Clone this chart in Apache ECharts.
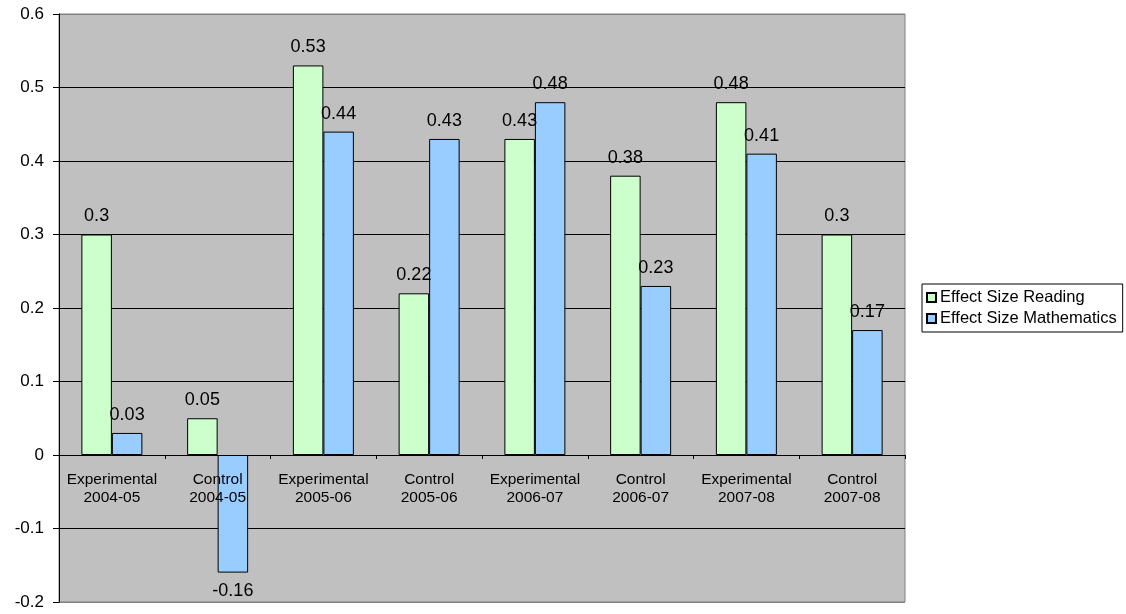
<!DOCTYPE html>
<html>
<head>
<meta charset="utf-8">
<script src="https://cdn.jsdelivr.net/npm/echarts@6/dist/echarts.min.js"></script>
<style>
  html, body { margin: 0; padding: 0; background: #fff; }
  #chart { width: 1126px; height: 614px; }
</style>
</head>
<body>
<div id="chart"></div>
<script>
// Effect sizes by group and school year
const categories = [
  'Experimental\n2004-05', 'Control\n2004-05',
  'Experimental\n2005-06', 'Control\n2005-06',
  'Experimental\n2006-07', 'Control\n2006-07',
  'Experimental\n2007-08', 'Control\n2007-08'
];
const readingValues = [0.3, 0.05, 0.53, 0.22, 0.43, 0.38, 0.48, 0.3];
const mathValues = [0.03, -0.16, 0.44, 0.43, 0.48, 0.23, 0.41, 0.17];
const seriesNames = ['Effect Size Reading', 'Effect Size Mathematics'];

const FONT = '"Liberation Sans", Arial, sans-serif';

const Y_MIN = -0.2;
const Y_MAX = 0.6;
const GRID = { left: 59, top: 14, right: 221, bottom: 12 };
const CHART_H = 614;

// Distance from the bottom edge of the plot up to the zero line,
// used to lift the category axis onto y = 0
const plotH = CHART_H - GRID.top - GRID.bottom;
const zeroLift = plotH * (0 - Y_MIN) / (Y_MAX - Y_MIN);

// Labels sit above positive bars and below negative ones
function withLabels(values) {
  return values.map(v => ({
    value: v,
    label: { position: v < 0 ? 'bottom' : 'top' }
  }));
}

const barLabel = {
  show: true,
  distance: 9,
  color: '#000',
  fontFamily: FONT,
  fontSize: 18,
  formatter: p => String(p.value)
};

const chart = echarts.init(document.getElementById('chart'), null, { renderer: 'canvas' });
chart.setOption({
  backgroundColor: '#fff',
  animation: false,
  grid: {
    left: GRID.left, top: GRID.top, right: GRID.right, bottom: GRID.bottom,
    show: true,
    backgroundColor: '#c0c0c0',
    borderColor: '#808080',
    borderWidth: 1
  },
  legend: {
    orient: 'vertical',
    left: 922,
    top: 284,
    padding: [5, 6, 5, 4],
    itemGap: 4,
    itemWidth: 9,
    itemHeight: 9,
    borderColor: '#000',
    borderWidth: 1,
    backgroundColor: '#fff',
    icon: 'rect',
    textStyle: { fontFamily: FONT, fontSize: 16.5, color: '#000', padding: [0, 0, 0, -1] },
    data: seriesNames
  },
  xAxis: {
    type: 'category',
    data: categories,
    position: 'bottom',
    offset: -zeroLift,
    z: 3,
    axisLine: { onZero: false, lineStyle: { color: '#000', width: 1 } },
    axisTick: { show: true, length: 4, alignWithLabel: false, lineStyle: { color: '#000' } },
    axisLabel: {
      interval: 0,
      margin: 16,
      color: '#000',
      fontFamily: FONT,
      fontSize: 15.5,
      lineHeight: 18
    },
    splitLine: { show: false }
  },
  yAxis: {
    type: 'value',
    min: Y_MIN,
    max: Y_MAX,
    interval: 0.1,
    axisLine: { show: true, lineStyle: { color: '#000', width: 1 } },
    axisTick: { show: true, length: 6, lineStyle: { color: '#000' } },
    axisLabel: {
      margin: 15,
      color: '#000',
      fontFamily: FONT,
      fontSize: 17,
      formatter: v => String(+v.toFixed(1))
    },
    splitLine: {
      show: true,
      lineStyle: {
        color: ['#808080', '#000', '#000', '#000', '#000', '#000', '#000', '#000', '#808080'],
        width: 1
      }
    }
  },
  series: [
    {
      name: seriesNames[0],
      type: 'bar',
      data: withLabels(readingValues),
      barWidth: 30.5,
      barGap: '0%',
      itemStyle: { color: '#ccffcc', borderColor: '#000', borderWidth: 1 },
      label: barLabel
    },
    {
      name: seriesNames[1],
      type: 'bar',
      data: withLabels(mathValues),
      barWidth: 30.5,
      barGap: '0%',
      itemStyle: { color: '#99ccff', borderColor: '#000', borderWidth: 1 },
      label: barLabel
    }
  ]
});
</script>
</body>
</html>
